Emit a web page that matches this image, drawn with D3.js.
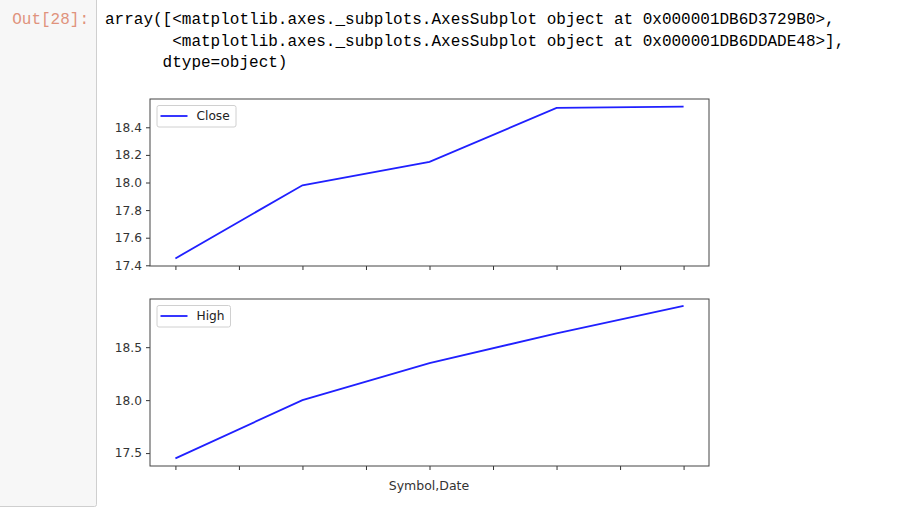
<!DOCTYPE html>
<html>
<head>
<meta charset="utf-8">
<script src="https://cdn.jsdelivr.net/npm/d3@7"></script>
<style>
  html, body { margin: 0; padding: 0; background: #fff; }
  svg { display: block; }
</style>
</head>
<body>
<svg id="chart" width="914" height="515"></svg>
<script>
// ---- data ----
const positions = [0, 1, 2, 3, 4];
const closeValues = [17.45, 17.98, 18.15, 18.54, 18.55];
const highValues = [17.45, 18.0, 18.35, 18.63, 18.89];
const closeTicks = [17.4, 17.6, 17.8, 18.0, 18.2, 18.4];
const highTicks = [17.5, 18.0, 18.5];
const xTicks = [0, 0.5, 1, 1.5, 2, 2.5, 3, 3.5, 4];
const seriesNames = ["Close", "High"];
const xLabel = "Symbol,Date";
const outLines = [
  "array([<matplotlib.axes._subplots.AxesSubplot object at 0x000001DB6D3729B0>,",
  "       <matplotlib.axes._subplots.AxesSubplot object at 0x000001DB6DDADE48>],",
  "      dtype=object)"
];

const svg = d3.select("#chart");
const font = "'DejaVu Sans', sans-serif";
const mono = "'Liberation Mono', 'DejaVu Sans Mono', monospace";

// prompt area
svg.append("rect").attr("x", -5).attr("y", -5).attr("width", 101.5).attr("height", 511.5)
  .attr("rx", 2).attr("fill", "#f7f7f7").attr("stroke", "#cfcfcf").attr("stroke-width", 1);
svg.append("text").attr("x", 89).attr("y", 24).attr("text-anchor", "end")
  .attr("font-family", mono).attr("font-size", 16).attr("fill", "#e0937d").text("Out[28]:");
svg.selectAll("text.out").data(outLines).join("text").attr("class", "out")
  .attr("x", 105).attr("y", (d, i) => 24 + i * 21.5)
  .attr("font-family", mono).attr("font-size", 16).attr("fill", "#000")
  .attr("xml:space", "preserve").style("white-space", "pre").text(d => d);

const x = d3.scaleLinear().domain([-0.2, 4.2]).range([150, 709]);

function panel(top, bottom, values, ticks, domain, name, showLabel) {
  const y = d3.scaleLinear().domain(domain).range([bottom, top]);
  const g = svg.append("g");
  g.append("rect").attr("x", 150).attr("y", top).attr("width", 559).attr("height", bottom - top)
    .attr("fill", "#fff");
  // line
  g.append("path").datum(positions.map((p, i) => [p, values[i]]))
    .attr("d", d3.line().x(d => x(d[0])).y(d => y(d[1])))
    .attr("fill", "none").attr("stroke", "#2020ff").attr("stroke-width", 1.8);
  // y axis
  const ya = g.append("g").attr("transform", "translate(150,0)")
    .call(d3.axisLeft(y).tickValues(ticks).tickFormat(d3.format(".1f")).tickSize(4).tickPadding(4));
  ya.select(".domain").remove();
  ya.selectAll("line").attr("stroke", "#333");
  ya.selectAll("text").attr("font-family", font).attr("font-size", 12.2).attr("fill", "#333");
  // x axis
  const xa = g.append("g").attr("transform", `translate(0,${bottom})`)
    .call(d3.axisBottom(x).tickValues(xTicks).tickFormat("").tickSize(4));
  xa.select(".domain").remove();
  xa.selectAll("line").attr("stroke", "#333");
  // frame
  g.append("rect").attr("x", 150).attr("y", top).attr("width", 559).attr("height", bottom - top)
    .attr("fill", "none").attr("stroke", "#444").attr("stroke-width", 1);
  // legend
  const lw = name === "Close" ? 79 : 73.5;
  g.append("rect").attr("x", 157).attr("y", top + 6.5).attr("width", lw).attr("height", 21.5)
    .attr("rx", 2).attr("fill", "#fff").attr("fill-opacity", 0.8).attr("stroke", "#d0d0d0");
  g.append("line").attr("x1", 160.5).attr("x2", 187.5).attr("y1", top + 17).attr("y2", top + 17)
    .attr("stroke", "#2020ff").attr("stroke-width", 1.8);
  g.append("text").attr("x", 196.5).attr("y", top + 17).attr("dy", "0.35em")
    .attr("font-family", font).attr("font-size", 12.2).attr("fill", "#222").text(name);
  if (showLabel) {
    g.append("text").attr("x", 429).attr("y", bottom + 24).attr("text-anchor", "middle")
      .attr("font-family", font).attr("font-size", 12.5).attr("fill", "#333").text(xLabel);
  }
}

panel(99, 266, closeValues, closeTicks, [17.395, 18.605], seriesNames[0], false);
panel(299, 466, highValues, highTicks, [17.378, 18.955], seriesNames[1], true);
</script>
</body>
</html>
